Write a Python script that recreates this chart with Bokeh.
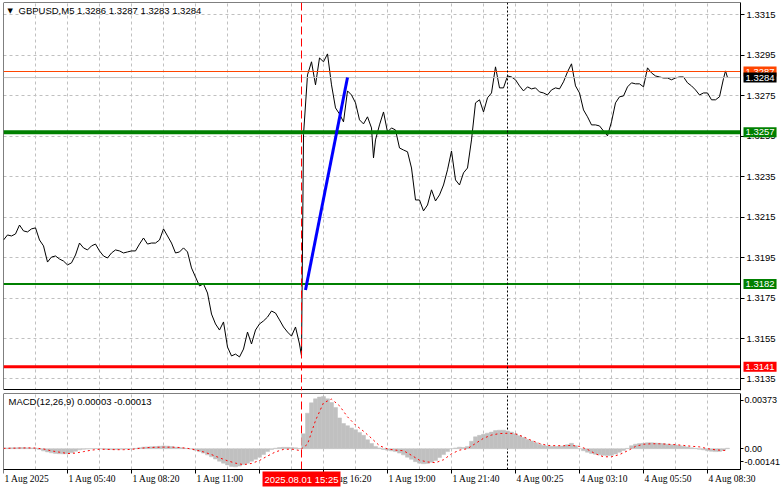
from bokeh.plotting import figure
from bokeh.layouts import column
from bokeh.models import (Range1d, FixedTicker, Span, Label, LabelSet, PrintfTickFormatter,
                          ColumnDataSource, LinearAxis, BoxAnnotation, Grid)
from bokeh.embed import file_html
from bokeh.resources import INLINE

FONT = "Liberation Sans"
FS = "9.5px"

# ---------------- data ----------------
symbol = "GBPUSD,M5"
ohlc_last = ["1.3286", "1.3287", "1.3283", "1.3284"]
macd_name = "MACD(12,26,9)"
macd_last = ["0.00003", "-0.00013"]

price_bars = (list(range(0, 149, 2)) + [149] + list(range(150, 185, 2)) + [185]
              + list(range(186, 361, 2)) + [361, 362])
price_close = [
    1.32037, 1.32062, 1.32057, 1.32067, 1.32111, 1.32082, 1.32077, 1.32092, 1.32097, 1.32037,
    1.32008, 1.31928, 1.31953, 1.31958, 1.31943, 1.31933, 1.31914, 1.31924, 1.31963, 1.32022,
    1.31998, 1.31988, 1.32008, 1.32017, 1.31983, 1.31958, 1.31948, 1.31973, 1.31988, 1.31983,
    1.31973, 1.31978, 1.31983, 1.31983, 1.32017, 1.32047, 1.32017, 1.32022, 1.32022, 1.32037,
    1.32092, 1.32057, 1.32022, 1.31973, 1.31978, 1.31998, 1.31978, 1.31899, 1.31854, 1.31810,
    1.31820, 1.31775, 1.31671, 1.31622, 1.31592, 1.31632, 1.31508, 1.31464, 1.31473, 1.31459,
    1.31498, 1.31582, 1.31523, 1.31592, 1.31622, 1.31637, 1.31656, 1.31686, 1.31676, 1.31642,
    1.31607, 1.31582, 1.31562, 1.31607, 1.31523,
    1.31464,
    1.32557, 1.32853, 1.32918, 1.32804, 1.32937, 1.32918, 1.32957, 1.32804, 1.32690, 1.32660,
    1.32621, 1.32774, 1.32754, 1.32715, 1.32631, 1.32611, 1.32646, 1.32591,
    1.32443,
    1.32532, 1.32606, 1.32670, 1.32571, 1.32591, 1.32581, 1.32492, 1.32482, 1.32473, 1.32393,
    1.32235, 1.32235, 1.32181, 1.32210, 1.32285, 1.32230, 1.32260, 1.32309, 1.32384, 1.32477,
    1.32334, 1.32309, 1.32369, 1.32393, 1.32532, 1.32715, 1.32730, 1.32670, 1.32740, 1.32764,
    1.32893, 1.32789, 1.32789, 1.32848, 1.32843, 1.32829, 1.32799, 1.32774, 1.32794, 1.32784,
    1.32789, 1.32769, 1.32764, 1.32754, 1.32779, 1.32789, 1.32784, 1.32819, 1.32868, 1.32908,
    1.32799, 1.32764, 1.32680, 1.32646, 1.32606, 1.32606, 1.32601, 1.32576, 1.32552, 1.32621,
    1.32715, 1.32745, 1.32749, 1.32794, 1.32814, 1.32809, 1.32809, 1.32794, 1.32888, 1.32863,
    1.32848, 1.32843, 1.32838, 1.32838, 1.32829, 1.32838, 1.32843, 1.32843, 1.32814, 1.32799,
    1.32779, 1.32754, 1.32764, 1.32764, 1.32730, 1.32730, 1.32745, 1.32835,
    1.32873, 1.32840,
]

macd_bars = list(range(0, 363, 2))
macd_main = [
    0.00005, 0.00005, 0.00006, 0.00006, 0.00007, 0.00007, 0.00006, 0.00005, 0.00004, -0.00005,
    -0.00015, -0.00022, -0.00028, -0.00032, -0.00034, -0.00035, -0.00034, -0.00028, -0.00018, -0.00008,
    -0.00004, -0.00002, 0.00000, 0.00001, 0.00000, -0.00003, -0.00005, -0.00006, -0.00005, -0.00004,
    -0.00003, -0.00002, -0.00001, 0.00002, 0.00006, 0.00010, 0.00012, 0.00013, 0.00014, 0.00016,
    0.00018, 0.00017, 0.00014, 0.00010, 0.00007, 0.00004, 0.00001, -0.00003, -0.00010, -0.00020,
    -0.00030, -0.00042, -0.00055, -0.00070, -0.00085, -0.00098, -0.00110, -0.00120, -0.00123, -0.00118,
    -0.00108, -0.00098, -0.00085, -0.00072, -0.00058, -0.00040, -0.00020, -0.00006, 0.00003, 0.00007,
    0.00009, 0.00009, 0.00008, 0.00006, 0.00002,
    0.00100, 0.00240, 0.00310, 0.00337, 0.00349, 0.00352, 0.00337, 0.00312, 0.00278, 0.00208,
    0.00170, 0.00155, 0.00140, 0.00128, 0.00110, 0.00090, 0.00060, 0.00035, 0.00015, 0.00005,
    -0.00005, -0.00010, -0.00015, -0.00020, -0.00030, -0.00042, -0.00058, -0.00072, -0.00088, -0.00098,
    -0.00102, -0.00100, -0.00092, -0.00080, -0.00060, -0.00040, -0.00020, 0.00000, 0.00005, 0.00010,
    0.00008, 0.00015, 0.00050, 0.00080, 0.00090, 0.00097, 0.00105, 0.00112, 0.00122, 0.00125,
    0.00125, 0.00120, 0.00112, 0.00100, 0.00088, 0.00075, 0.00062, 0.00052, 0.00040, 0.00030,
    0.00022, 0.00018, 0.00016, 0.00015, 0.00016, 0.00018, 0.00026, 0.00036, 0.00020, 0.00000,
    -0.00014, -0.00024, -0.00032, -0.00038, -0.00042, -0.00045, -0.00047, -0.00045, -0.00036, -0.00025,
    -0.00012, 0.00002, 0.00020, 0.00030, 0.00034, 0.00036, 0.00040, 0.00040, 0.00038, 0.00036,
    0.00034, 0.00030, 0.00027, 0.00024, 0.00020, 0.00017, 0.00012, 0.00006, 0.00002, -0.00004,
    -0.00008, -0.00014, -0.00018, -0.00020, -0.00019, -0.00012, 0.00003,
]

signal_bars = list(range(0, 361, 4)) + [362]
macd_signal = [
    0.00002, 0.00003, 0.00004, 0.00005, 0.00004, -0.00002, -0.00015, -0.00024, -0.00033, -0.00030,
    -0.00020, -0.00010, -0.00004, -0.00005, -0.00007, -0.00007, -0.00005, 0.00002, 0.00007, 0.00009,
    0.00010, 0.00010, 0.00008, 0.00002, -0.00008, -0.00022, -0.00040, -0.00062, -0.00082, -0.00098,
    -0.00108, -0.00100, -0.00080, -0.00050, -0.00022, -0.00005, -0.00003, -0.00012, 0.00030, 0.00190,
    0.00310, 0.00335, 0.00290, 0.00215, 0.00160, 0.00118, 0.00070, 0.00020, -0.00002, -0.00010,
    -0.00014, -0.00045, -0.00078, -0.00090, -0.00095, -0.00075, -0.00035, -0.00010, 0.00000, 0.00035,
    0.00070, 0.00092, 0.00102, 0.00104, 0.00100, 0.00080, 0.00055, 0.00035, 0.00022, 0.00020,
    0.00020, 0.00022, 0.00015, -0.00005, -0.00035, -0.00055, -0.00055, -0.00040, -0.00015, 0.00015,
    0.00030, 0.00033, 0.00033, 0.00030, 0.00027, 0.00022, 0.00016, 0.00012, 0.00000, -0.00008,
    -0.00012, -0.00013,
]

time_tick_bars = [0, 32, 64, 96, 128, 160, 192, 224, 256, 288, 320, 352]
time_tick_labels = ["1 Aug 2025", "1 Aug 05:40", "1 Aug 08:20", "1 Aug 11:00", "",
                    "1 Aug 16:20", "1 Aug 19:00", "1 Aug 21:40", "4 Aug 00:25",
                    "4 Aug 03:10", "4 Aug 05:50", "4 Aug 08:30"]
grid_bars = [16, 32, 48, 64, 80, 96, 112, 128, 144, 160, 176, 192, 208, 224, 240,
             256, 272, 288, 304, 320, 336, 352]
price_ticks = [1.3315, 1.3295, 1.3275, 1.3255, 1.3235, 1.3215, 1.3195, 1.3175, 1.3155, 1.3135]
macd_scale_labels = ["0.00373", "0.00", "-0.00141"]

level_ask = 1.3287
level_last = 1.3284
level_green_thick = 1.3257
level_green = 1.3182
level_red = 1.3141

trend_bars = [151, 172]
trend_prices = [1.3179, 1.3284]

signal_bar = 149
signal_time = "2025.08.01 15:25"
day_sep_bar = 252

assert len(price_bars) == len(price_close), (len(price_bars), len(price_close))
assert len(macd_bars) == len(macd_main), (len(macd_bars), len(macd_main))
assert len(signal_bars) == len(macd_signal), (len(signal_bars), len(macd_signal))

# ---------------- layout constants ----------------
FW = 778                      # frame spans chart + price scale
PANE_W = 737                  # chart area width in px
X0 = 0.0
X1 = X0 + FW / 2.0            # 2 px per bar
X_AX = X0 + PANE_W / 2.0      # location of the price scale
FH_MAIN, FH_MACD, MACD_BELOW = 388, 76, 20
PRICE_SPAN = 0.01918
price_px = PRICE_SPAN / FH_MAIN
PRICE_HI = level_ask + 69 * price_px
PRICE_LO = PRICE_HI - PRICE_SPAN
MACD_LO, MACD_HI = -0.00141, 0.00373
macd_px = (MACD_HI - MACD_LO) / FH_MACD
MACD_BOTTOM = MACD_LO - MACD_BELOW * macd_px

GRID_COLOR = "#C0C0C0"


def make_fig(fh, y0, y1, top, bottom):
    p = figure(frame_width=FW, frame_height=fh, x_range=Range1d(X0, X1), y_range=Range1d(y0, y1),
               x_axis_location=None, y_axis_location=None, toolbar_location=None,
               output_backend="svg", min_border=0, min_border_left=0, min_border_right=0,
               min_border_top=top, min_border_bottom=bottom,
               background_fill_color="white", border_fill_color="white",
               outline_line_color=None)
    if not p.xgrid:
        p.add_layout(Grid(dimension=0))
    if not p.ygrid:
        p.add_layout(Grid(dimension=1))
    p.xgrid.ticker = FixedTicker(ticks=grid_bars)
    p.xgrid.grid_line_color = GRID_COLOR
    p.xgrid.grid_line_dash = "3 3"
    return p


def right_scale(p, lo, hi, ticks, tick_out, standoff, size):
    ax = LinearAxis(fixed_location=X_AX, bounds=(lo, hi), ticker=FixedTicker(ticks=ticks))
    ax.axis_line_color = "black"
    ax.major_tick_out = tick_out
    ax.major_tick_in = 0
    ax.minor_tick_line_color = None
    ax.major_label_standoff = standoff
    ax.major_label_text_font = FONT
    ax.major_label_text_font_size = size
    ax.major_label_text_color = "black"
    p.add_layout(ax, "right")
    return ax


def pane_box(p, lo, hi, px):
    p.add_layout(BoxAnnotation(left=X0, right=X_AX, bottom=lo + px, top=hi,
                               fill_alpha=0, fill_color=None, line_color="black",
                               line_width=1, line_alpha=1, level="underlay"))


# ---------------- main price pane ----------------
main = make_fig(FH_MAIN, PRICE_LO, PRICE_HI, 0, 1)
main.ygrid.ticker = FixedTicker(ticks=price_ticks)
main.ygrid.grid_line_color = GRID_COLOR
main.ygrid.grid_line_dash = "3 3"
main.ygrid.cross_bounds = (X0, X_AX)
pane_box(main, PRICE_LO, PRICE_HI, price_px)

pax = right_scale(main, PRICE_LO, PRICE_HI, price_ticks, 4, 2, FS)
pax.formatter = PrintfTickFormatter(format="%.4f")

main.add_layout(Span(location=signal_bar, dimension="height", line_color="#FF0000",
                     line_width=1, line_dash="8 4"))
main.add_layout(Span(location=day_sep_bar, dimension="height", line_color="black",
                     line_width=1, line_dash="2 2"))

main.line(price_bars, price_close, line_color="black", line_width=1)

levels = [level_ask, level_last, level_green_thick, level_green, level_red]
level_colors = ["#FF4500", "#C0C0C0", "#008000", "#008000", "#FF0000"]
level_widths = [1, 1, 4, 2, 3]
main.segment(x0=[X0] * len(levels), x1=[X_AX] * len(levels), y0=levels, y1=levels,
             line_color=level_colors, line_width=level_widths)

main.line(trend_bars, trend_prices, line_color="#0000FF", line_width=3)

tag_bg = ["#FF4500", "black", "#008000", "#008000", "#FF0000"]
for lv, bg in zip(levels, tag_bg):
    main.add_layout(Label(x=X_AX, y=lv, x_offset=3, text=f"{lv:.4f}",
                          text_font=FONT, text_font_size=FS, text_color="white",
                          text_baseline="middle", text_align="left",
                          background_fill_color=bg, padding=2))

title_y = PRICE_HI - 8 * price_px
main.add_layout(Label(x=X0, y=title_y, x_offset=4, text="\u25BC", text_font="DejaVu Sans",
                      text_font_size="7px", text_color="black", text_baseline="middle"))
main.add_layout(Label(x=X0, y=title_y, x_offset=15, text=f"{symbol}  {' '.join(ohlc_last)}",
                      text_font=FONT, text_font_size=FS, text_color="black",
                      text_baseline="middle"))

# ---------------- MACD pane ----------------
macd = make_fig(FH_MACD + MACD_BELOW, MACD_BOTTOM, MACD_HI, 2, 0)
macd.ygrid.visible = False
macd.xgrid.cross_bounds = (MACD_LO, MACD_HI)
pane_box(macd, MACD_LO, MACD_HI, 0.0)

macd_tick_pos = [round(MACD_HI - 7 * macd_px, 6), 0.0, round(MACD_LO + 8 * macd_px, 6)]
max_ = right_scale(macd, MACD_LO, MACD_HI, macd_tick_pos, 3, 1, "9px")
max_.major_label_overrides = dict(zip(macd_tick_pos, macd_scale_labels))

macd.segment(x0=[signal_bar], x1=[signal_bar], y0=[MACD_LO], y1=[MACD_HI],
             line_color="#FF0000", line_width=1, line_dash="8 4")
macd.segment(x0=[day_sep_bar], x1=[day_sep_bar], y0=[MACD_LO], y1=[MACD_HI],
             line_color="black", line_width=1, line_dash="2 2")

macd.vbar(x=macd_bars, top=macd_main, bottom=0, width=2, fill_color="#C0C0C0",
          line_color="#C0C0C0", line_width=0.5)
macd.line(signal_bars, macd_signal, line_color="#FF0000", line_width=1, line_dash="2 3")

tax = LinearAxis(fixed_location=MACD_LO, bounds=(X0, X_AX), ticker=FixedTicker(ticks=time_tick_bars))
tax.major_label_overrides = {b: "" for b in time_tick_bars}
tax.axis_line_color = "black"
tax.major_tick_out = 4
tax.major_tick_in = 0
tax.minor_tick_line_color = None
tax.major_label_text_font_size = FS
macd.add_layout(tax, "below")

time_src = ColumnDataSource(dict(x=time_tick_bars,
                                 y=[MACD_LO - 9.5 * macd_px] * len(time_tick_bars),
                                 text=time_tick_labels))
macd.add_layout(LabelSet(x="x", y="y", text="text", source=time_src, x_offset=1,
                         text_font=FONT, text_font_size=FS, text_color="black",
                         text_baseline="middle", text_align="left"))

macd.add_layout(Label(x=X0, y=MACD_HI - 8 * macd_px, x_offset=5,
                      text=f"{macd_name} {' '.join(macd_last)}", text_font=FONT,
                      text_font_size=FS, text_color="black", text_baseline="middle"))
macd.add_layout(Label(x=signal_bar, y=MACD_LO - 9.5 * macd_px, text=signal_time,
                      text_font=FONT, text_font_size=FS, text_color="white",
                      text_baseline="middle", text_align="center",
                      background_fill_color="#FF0000", padding=2))

layout = column(main, macd, spacing=0, margin=(2, 0, 0, 3))

with open("out.html", "w") as f:
    f.write(file_html(layout, INLINE))
